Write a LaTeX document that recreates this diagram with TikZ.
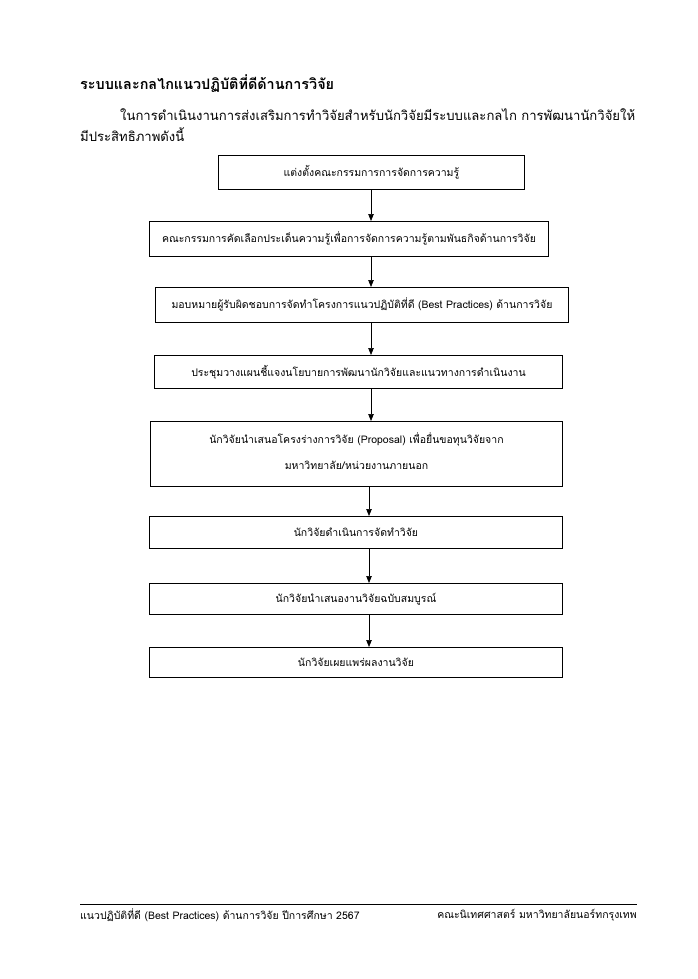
\documentclass[tikz,border=0pt]{standalone}
\usepackage{fontspec}
\setmainfont[Script=Thai]{Loma}
\usetikzlibrary{arrows.meta}
\begin{document}
\begin{tikzpicture}[x=1pt,y=-1pt,
  stepbox/.style={draw=black,line width=0.9pt,inner sep=0pt,anchor=north west,
    font=\fontsize{10.5}{26}\selectfont,align=center},
  flow/.style={-{Triangle[width=5.5pt,length=7pt]},line width=0.7pt},
  txt/.style={inner sep=0pt}]
\useasboundingbox (0,0) rectangle (698,979);
\node[txt,anchor=west,font=\bfseries\fontsize{14.4}{18}\selectfont] (title) at (80,84) {ระบบและกลไกแนวปฏิบัติที่ดีด้านการวิจัย};
\node[txt,anchor=west,font=\fontsize{13.1}{15}\selectfont] (p1) at (120,115) {ในการดำเนินงานการส่งเสริมการทำวิจัยสำหรับนักวิจัยมีระบบและกลไก การพัฒนานักวิจัยให้};
\node[txt,anchor=west,font=\fontsize{13.1}{15}\selectfont] (p2) at (80,135) {มีประสิทธิภาพดังนี้};

\node[stepbox,minimum width=306pt,minimum height=34pt] (b1) at (218,155) {แต่งตั้งคณะกรรมการการจัดการความรู้};
\node[stepbox,minimum width=399pt,minimum height=35pt] (b2) at (149,221) {คณะกรรมการคัดเลือกประเด็นความรู้เพื่อการจัดการความรู้ตามพันธกิจด้านการวิจัย};
\node[stepbox,minimum width=413pt,minimum height=35pt] (b3) at (155,287) {มอบหมายผู้รับผิดชอบการจัดทำโครงการแนวปฏิบัติที่ดี (Best Practices) ด้านการวิจัย};
\node[stepbox,minimum width=408pt,minimum height=33pt] (b4) at (154,355) {ประชุมวางแผนชี้แจงนโยบายการพัฒนานักวิจัยและแนวทางการดำเนินงาน};
\node[stepbox,minimum width=412pt,minimum height=65pt] (b5) at (150,421) {นักวิจัยนำเสนอโครงร่างการวิจัย (Proposal) เพื่อยื่นขอทุนวิจัยจาก\\มหาวิทยาลัย/หน่วยงานภายนอก\rule[-6pt]{0pt}{0pt}};
\node[stepbox,minimum width=413pt,minimum height=32pt] (b6) at (149,516) {นักวิจัยดำเนินการจัดทำวิจัย};
\node[stepbox,minimum width=413pt,minimum height=31pt] (b7) at (149,583) {นักวิจัยนำเสนองานวิจัยฉบับสมบูรณ์};
\node[stepbox,minimum width=413pt,minimum height=30pt] (b8) at (149,647) {นักวิจัยเผยแพร่ผลงานวิจัย};

\coordinate (ax) at (371,0);
\coordinate (bx) at (369,0);
\draw[flow] (b1.south -| ax) -- (b2.north -| ax);
\draw[flow] (b2.south -| ax) -- (b3.north -| ax);
\draw[flow] (b3.south -| ax) -- (b4.north -| ax);
\draw[flow] (b4.south -| ax) -- (b5.north -| ax);
\draw[flow] (b5.south -| bx) -- (b6.north -| bx);
\draw[flow] (b6.south -| bx) -- (b7.north -| bx);
\draw[flow] (b7.south -| bx) -- (b8.north -| bx);

\coordinate (fl) at (80,904);
\coordinate (fr) at (637,904);
\draw[line width=0.8pt] (fl) -- (fr);
\node[txt,anchor=west,font=\fontsize{10.5}{13}\selectfont] (f1) at (80,915) {แนวปฏิบัติที่ดี (Best Practices) ด้านการวิจัย ปีการศึกษา 2567};
\node[txt,anchor=east,font=\fontsize{10.5}{13}\selectfont] (f2) at (637,915) {คณะนิเทศศาสตร์ มหาวิทยาลัยนอร์ทกรุงเทพ};
\end{tikzpicture}
\end{document}
